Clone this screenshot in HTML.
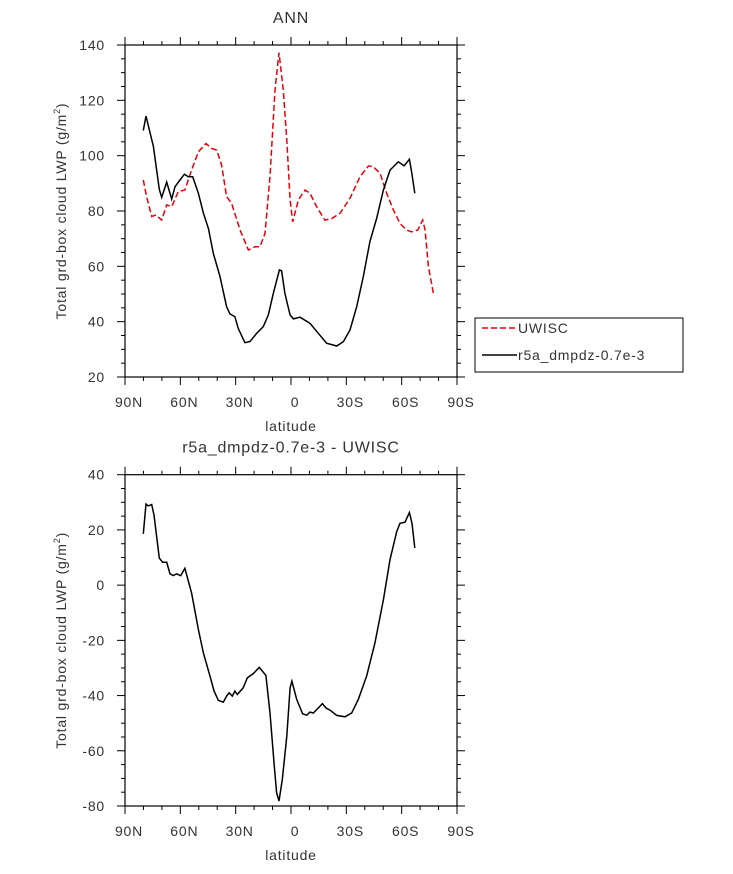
<!DOCTYPE html>
<html><head><meta charset="utf-8"><style>
body{margin:0;background:#fff;}
svg text{font-family:"Liberation Sans",sans-serif;fill:#333;}
</style></head><body>
<svg id="chart" width="733" height="869" viewBox="0 0 733 869" xmlns="http://www.w3.org/2000/svg"></svg>
<script>
const latTop=[-80.1,-78.6,-74.6,-71.4,-70.1,-67.4,-64.7,-62.9,-60.2,-57.8,-55.7,-53.3,-50.2,-47.5,-44.8,-42.1,-38.5,-34.9,-33.1,-30.4,-28.6,-25.0,-22.3,-18.6,-15.0,-12.3,-9.6,-6.3,-5.1,-3.3,-0.5,1.3,4.9,10.3,14.8,19.3,24.8,28.4,32.0,35.6,39.2,42.8,46.4,50.1,53.7,58.2,61.3,64.2,65.4,67.1];
const modelVals=[109.1,114.3,103.3,87.8,84.9,90.4,84.3,88.8,91.2,93.3,92.4,92.4,86.4,79.2,73.7,64.7,56.3,45.4,42.8,41.8,37.6,32.4,32.8,35.8,38.2,42.4,50.2,58.7,58.4,50.2,42.4,41.0,41.6,39.4,35.8,32.2,31.2,32.8,37.0,45.4,56.3,68.9,77.3,87.6,94.8,97.8,96.3,98.7,94.2,86.4];
const latObs=[-80.1,-78.3,-75.5,-73.2,-70.1,-67.4,-64.7,-61.1,-57.5,-53.9,-50.2,-46.1,-43.0,-40.3,-37.6,-34.9,-32.2,-27.6,-23.1,-19.5,-16.8,-14.1,-11.4,-8.7,-6.5,-4.2,-2.3,-0.5,0.9,4.0,7.6,10.3,13.9,18.4,22.1,26.6,32.0,37.4,42.0,44.6,48.3,51.9,55.5,59.1,62.7,65.4,68.7,71.4,72.7,74.5,77.2];
const obsVals=[91.2,85.2,78.0,78.6,76.7,82.2,81.6,87.0,87.6,94.8,101.4,104.4,102.6,102.0,96.6,85.2,82.8,73.1,65.9,67.1,67.1,71.9,92.4,123.7,137.2,123.7,105.7,84.0,76.1,84.0,87.6,86.4,81.6,76.7,77.3,79.2,84.6,92.4,96.3,96.0,93.6,86.4,80.4,75.5,73.1,72.5,73.1,76.7,73.1,59.9,50.2];
const latDiff=[-80.1,-78.6,-77.4,-75.5,-74.3,-71.4,-69.6,-67.4,-65.6,-63.8,-62.0,-59.8,-57.5,-53.9,-50.2,-47.5,-43.9,-41.7,-39.4,-36.7,-34.9,-33.5,-31.8,-30.4,-29.1,-25.9,-23.7,-20.4,-17.2,-13.6,-11.4,-9.2,-7.8,-6.5,-4.7,-2.3,-0.5,0.5,3.1,6.3,8.5,10.3,12.1,14.8,17.0,19.0,21.2,24.8,29.3,32.9,36.5,41.0,45.5,50.1,53.7,57.3,59.1,61.8,64.2,65.6,67.1];
const diffVals=[18.6,29.4,28.7,29.2,25.4,9.8,8.3,8.3,4.1,3.5,4.1,3.4,6.1,-2.9,-16.1,-24.6,-33.0,-38.4,-41.7,-42.4,-40.2,-39.0,-40.2,-38.4,-39.6,-37.2,-33.6,-32.0,-29.8,-32.7,-46.3,-64.3,-75.2,-78.2,-70.4,-54.7,-37.2,-34.8,-41.4,-46.6,-47.1,-46.0,-46.3,-44.5,-42.9,-44.5,-45.3,-47.2,-47.7,-46.3,-41.4,-33.0,-21.0,-5.3,9.2,19.4,22.4,22.8,26.3,22.4,13.4];
const xTickLabels=["90N","60N","30N","0","30S","60S","90S"];
const yTicksTop=[20,40,60,80,100,120,140];
const yTicksBot=[-80,-60,-40,-20,0,20,40];

const svg=document.getElementById('chart');
const NS='http://www.w3.org/2000/svg';
function mk(tag,attrs,parent){const e=document.createElementNS(NS,tag);for(const k in attrs)e.setAttribute(k,attrs[k]);(parent||svg).appendChild(e);return e;}
const X0=125,X1=457;
function xs(lat){return X0+(lat+90)*(X1-X0)/180;}

function panel(name,top,bot,ymin,ymax,yticks,title,series){
  const g=mk('g',{});
  
  
  const ys=v=>bot-(v-ymin)*(bot-top)/(ymax-ymin);
  for(let lat=-90;lat<=90;lat+=10){
    const maj=lat%30===0, L=maj?8:4, x=xs(lat);
    mk('line',{x1:x,x2:x,y1:bot,y2:bot+L,stroke:'#000','stroke-width':1},g);
    mk('line',{x1:x,x2:x,y1:top,y2:top-L,stroke:'#000','stroke-width':1},g);
  }
  for(let v=ymin;v<=ymax;v+=5){
    const maj=v%20===0, L=maj?8:4, y=ys(v);
    mk('line',{x1:X0,x2:X0-L,y1:y,y2:y,stroke:'#000','stroke-width':1},g);
    mk('line',{x1:X1,x2:X1+L,y1:y,y2:y,stroke:'#000','stroke-width':1},g);
  }
  const fr=mk('rect',{x:X0,y:top,width:X1-X0,height:bot-top,fill:'none',stroke:'#000','stroke-width':1.2},g);
  
  
  xTickLabels.forEach((t,i)=>{
    const tx=mk('text',{x:xs(-90+30*i)+4,y:bot+30,'text-anchor':'middle','font-size':14,'letter-spacing':0.8},g);
    tx.textContent=t;
    
    
  });
  yticks.forEach(v=>{
    const tx=mk('text',{x:X0-20,y:ys(v)+5,'text-anchor':'end','font-size':14,'letter-spacing':0.8},g);
    tx.textContent=v;
    
    
  });
  const xt=mk('text',{x:291,y:bot+54,'text-anchor':'middle','font-size':14,'letter-spacing':0.8},g);
  xt.textContent='latitude';
  
  
  const cy=(top+bot)/2;
  const yt=mk('text',{x:66,y:cy,'text-anchor':'middle','font-size':14,'letter-spacing':0.8,transform:`rotate(-90 66 ${cy})`},g);
  yt.innerHTML='Total grd-box cloud LWP (g/m<tspan font-size="9" dy="-6">2</tspan><tspan dy="6">)</tspan>';
  
  
  const tt=mk('text',{x:291,y:top-22,'text-anchor':'middle','font-size':16,'letter-spacing':0.8},g);
  tt.textContent=title;
  
  
  series.forEach(s=>{
    const d=s.lat.map((l,i)=>(i?'L':'M')+xs(l).toFixed(1)+' '+ys(s.vals[i]).toFixed(1)).join(' ');
    const p=mk('path',{d:d,fill:'none',stroke:s.color,'stroke-width':1.5,'stroke-dasharray':s.dash||'none'},g);
    
    
  });
}
panel('top-panel',45,377,20,140,yTicksTop,'ANN',[
  {lat:latObs,vals:obsVals,color:'#e8000b',dash:'6 3',name:'uwisc-line'},
  {lat:latTop,vals:modelVals,color:'#000',name:'model-line'}]);
panel('bottom-panel',474.7,806,-80,40,yTicksBot,'r5a_dmpdz-0.7e-3 - UWISC',[
  {lat:latDiff,vals:diffVals,color:'#000',name:'difference-line'}]);

const lg=mk('g',{});


mk('rect',{x:475,y:318,width:208,height:54,fill:'none',stroke:'#000','stroke-width':1},lg);
const l1=mk('line',{x1:482,x2:517,y1:328,y2:328,stroke:'#e8000b','stroke-width':1.5,'stroke-dasharray':'6 3'},lg);


const t1=mk('text',{x:518,y:333,'font-size':14,'letter-spacing':0.8},lg);t1.textContent='UWISC';


const l2=mk('line',{x1:482,x2:517,y1:355,y2:355,stroke:'#000','stroke-width':1.5},lg);


const t2=mk('text',{x:518,y:360,'font-size':14,'letter-spacing':0.8},lg);t2.textContent='r5a_dmpdz-0.7e-3';


</script>
</body></html>
